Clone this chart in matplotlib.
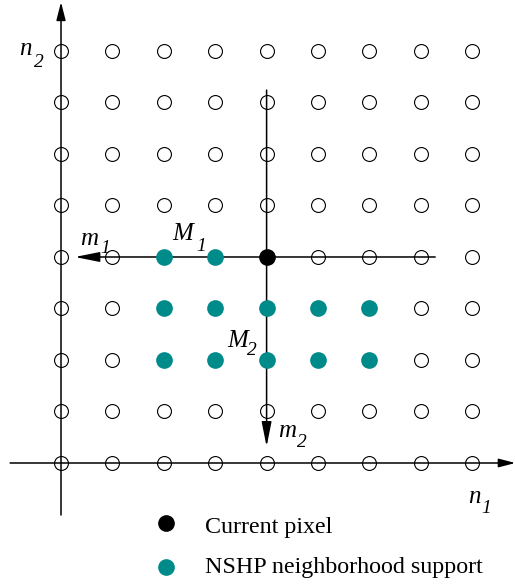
import matplotlib.pyplot as plt

plt.rcParams['font.family'] = 'Liberation Serif'

# lattice n1 = 0..8, n2 = 0..8
n1_vals = list(range(9))
n2_vals = list(range(9))
current = (4, 4)
support_n1 = [2, 3, 2, 3, 4, 5, 6, 2, 3, 4, 5, 6]
support_n2 = [4, 4, 3, 3, 3, 3, 3, 2, 2, 2, 2, 2]
teal = '#008b8b'

fig = plt.figure(figsize=(5.15, 5.85), dpi=100)
ax = fig.add_axes([0, 0, 1, 1])
ax.set_xlim(-1.187, 8.833)
ax.set_ylim(-2.369, 8.99)
ax.axis('off')


def px(x, y):
    # pixel position in the picture -> lattice coordinates
    return (x - 61) / 51.4, (463 - y) / 51.5


def arrow(tail, tip, hl=0.75, hw=0.15):
    ax.annotate('', xy=tip, xytext=tail,
                arrowprops=dict(arrowstyle='-|>,head_length=%g,head_width=%g' % (hl, hw),
                                color='black', lw=1.1, shrinkA=0, shrinkB=0,
                                mutation_scale=20))


# n1 / n2 axes
arrow((0, -1.01), (0, 8.95), hl=0.55, hw=0.14)
arrow((-0.99, 0), (8.84, 0), hl=0.5, hw=0.13)
# m1 / m2 axes through current pixel
arrow((7.28, current[1]), (0.27, current[1]))
arrow((current[0], 7.24), (current[0], 0.32))

# open lattice points
pts = [(i, j) for i in n1_vals for j in n2_vals]
ax.plot([p[0] for p in pts], [p[1] for p in pts], 'o', ms=10, mfc='none',
        mec='black', mew=0.8, ls='none', zorder=3)
ax.plot(support_n1, support_n2, 'o', ms=11, color=teal, ls='none', zorder=4)
ax.plot([current[0]], [current[1]], 'o', ms=11, color='black', zorder=4)


def label(letter, sub, lx, ly, sx, sy):
    ax.text(*px(lx, ly), letter, fontsize=18, style='italic', ha='left', va='baseline')
    ax.text(*px(sx, sy), sub, fontsize=14, style='italic', ha='left', va='baseline')


label('n', '2', 19, 55, 34, 67)
label('m', '1', 80, 245, 100, 253)
label('M', '1', 172, 240, 196, 251)
label('M', '2', 227, 347, 247, 355)
label('m', '2', 278, 437, 297, 447)
label('n', '1', 468, 503, 481, 513)

# legend
ax.plot(*px(165.5, 523.5), 'o', ms=11, color='black')
ax.plot(*px(165.5, 567), 'o', ms=11, color=teal)
ax.text(*px(205, 533), 'Current pixel', fontsize=17.3, ha='left', va='baseline')
ax.text(*px(205, 573), 'NSHP neighborhood support', fontsize=17.3, ha='left', va='baseline')

fig.savefig('out.png', dpi=100)
